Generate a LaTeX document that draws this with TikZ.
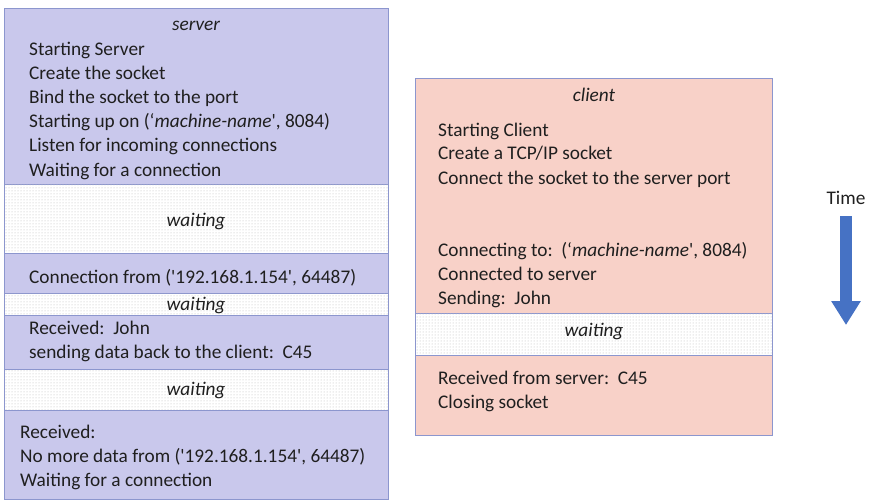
\documentclass[tikz,border=0pt]{standalone}
\usepackage{fontspec}
\setmainfont{Carlito}
\usetikzlibrary{patterns,arrows.meta}

\definecolor{srvfill}{RGB}{201,200,236}
\definecolor{clifill}{RGB}{248,209,200}
\definecolor{edgeblue}{RGB}{140,150,206}
\definecolor{timeblue}{RGB}{70,114,196}

\tikzset{
  srvbox/.style={draw=edgeblue, line width=0.9pt, fill=srvfill},
  clibox/.style={draw=edgeblue, line width=0.9pt, fill=clifill},
  waitbox/.style={draw=edgeblue, line width=0.9pt, fill=white,
                  postaction={pattern=dots, pattern color=black!28}},
  txt/.style={anchor=base west, inner sep=0pt, text=black!88,
              font=\fontsize{19.3}{24}\selectfont},
  ctr/.style={txt, anchor=base, font=\fontsize{19.3}{24}\selectfont\itshape},
}

\begin{document}
\begin{tikzpicture}[x=1pt, y=-1pt]
  \useasboundingbox (0,0) rectangle (870,500);

  % server column
  \foreach \ya/\yb/\st in {8/184/srvbox, 184/253/waitbox, 253/293/srvbox,
                           293/315/waitbox, 315/369/srvbox, 369/410/waitbox,
                           410/499/srvbox} {
    \draw[\st] (4,\ya) rectangle (388,\yb);
  }
  \node[ctr] (srvname) at (196,31) {server};
  \foreach \yv/\tx [count=\i] in {
    56/{Starting Server},
    80/{Create the socket},
    104/{Bind the socket to the port},
    128/{Starting up on (‘\textit{machine-name}\textquotesingle, 8084)},
    152/{Listen for incoming connections},
    176/{Waiting for a connection},
    283/{Connection from (\textquotesingle192.168.1.154\textquotesingle, 64487)},
    334/{Received:\ \ John},
    358/{sending data back to the client:\ \ C45}} {
    \node[txt] (srv\i) at (29,\yv) {\tx};
  }
  \foreach \yv/\tx [count=\i] in {
    438/{Received:},
    462/{No more data from (\textquotesingle192.168.1.154\textquotesingle, 64487)},
    486/{Waiting for a connection}} {
    \node[txt] (srvend\i) at (20,\yv) {\tx};
  }
  \foreach \yv [count=\i] in {226, 310, 395} {
    \node[ctr] (srvwait\i) at (196,\yv) {waiting};
  }

  % client column
  \foreach \ya/\yb/\st in {78/313/clibox, 313/355/waitbox, 355/435/clibox} {
    \draw[\st] (415,\ya) rectangle (772,\yb);
  }
  \node[ctr] (cliname) at (594,102) {client};
  \foreach \yv/\tx [count=\i] in {
    136/{Starting Client},
    160/{Create a TCP/IP socket},
    184/{Connect the socket to the server port},
    256/{Connecting to:\ \ (‘\textit{machine-name}\textquotesingle, 8084)},
    280/{Connected to server},
    304/{Sending:\ \ John},
    384/{Received from server:\ \ C45},
    408/{Closing socket}} {
    \node[txt] (cli\i) at (438,\yv) {\tx};
  }
  \node[ctr] (cliwait) at (594,336) {waiting};

  % time arrow
  \node[txt, anchor=base] (tlabel) at (846,204) {Time};
  \coordinate (tend) at (846,325);
  \draw[timeblue, line width=12pt, -{Triangle[width=28pt, length=24pt]}]
    ([yshift=-12pt]tlabel.south) -- (tend);
\end{tikzpicture}
\end{document}
